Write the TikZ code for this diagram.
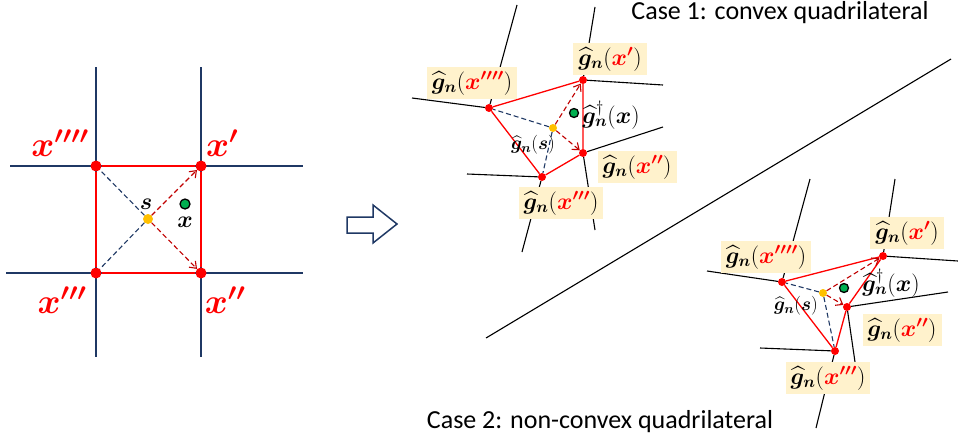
\RequirePackage{fix-cm}
\documentclass[tikz,border=0pt]{standalone}
\usepackage{amsmath,bm}
\usepackage[no-math]{fontspec}
\newfontfamily\casefont{Carlito}
\usepackage{xcolor}
\definecolor{gridBlue}{HTML}{1F3864}
\definecolor{vtxRed}{HTML}{FF0000}
\definecolor{arrowRed}{HTML}{C00000}
\definecolor{sampleGold}{HTML}{FFC000}
\definecolor{pointGreen}{HTML}{00B050}
\definecolor{labelBg}{HTML}{FFF2CC}
\usepackage{tikz}
\usetikzlibrary{arrows.meta}
\newcommand{\ghatn}{\widehat{\bm g}_{\bm n}}
\newcommand{\rx}[1]{\textcolor{vtxRed}{\bm{x#1}}}
\tikzset{
  gridline/.style={draw=gridBlue, line width=1.8pt},
  celledge/.style={draw=black, line width=1.1pt},
  quadline/.style={draw=vtxRed, line width=1.6pt},
  sdashblue/.style={draw=gridBlue, dash pattern=on 5pt off 3pt, line width=1.1pt},
  sdashred/.style={draw=arrowRed, dash pattern=on 5pt off 3pt, line width=1.1pt,
    -{Straight Barb[length=6pt,width=9pt]}},
  bigdot/.style={circle, fill=vtxRed, inner sep=0pt, minimum size=11pt},
  smalldot/.style={circle, fill=vtxRed, inner sep=0pt, minimum size=8pt},
  golddot/.style={circle, fill=sampleGold, inner sep=0pt, minimum size=#1},
  greendot/.style={circle, fill=pointGreen, draw=black, line width=1.3pt, inner sep=0pt, minimum size=#1},
  gbox/.style={fill=labelBg, inner xsep=5pt, inner ysep=4.5pt, font=\fontsize{23.5}{25}\selectfont},
  gtext/.style={inner sep=0pt, font=\fontsize{23.5}{25}\selectfont},
  stext/.style={inner sep=0pt, font=\fontsize{19}{21}\selectfont},
  bigx/.style={inner sep=0pt, text=vtxRed, font=\fontsize{35}{37}\selectfont},
  casetext/.style={inner sep=0pt, font=\casefont\fontsize{26}{28}\selectfont}
}
\begin{document}
\begin{tikzpicture}[x=1pt,y=-1pt]
  \useasboundingbox (0,0) rectangle (958,442);
  % left: regular grid
  \foreach \c in {96,201}{\draw[gridline] (\c,67) -- (\c,357);}
  \draw[gridline] (10,166) -- (303,166);
  \draw[gridline] (6,273) -- (303,273);
  \node[bigdot] (lq4) at (96,166) {};
  \node[bigdot] (lq1) at (201,166) {};
  \node[bigdot] (lq2) at (201,273) {};
  \node[bigdot] (lq3) at (96,273) {};
  \node[golddot=10pt] (ls) at (148,219) {};
  \node[greendot=10pt] (lx) at (185,204) {};
  \draw[quadline] (lq4) -- (lq1) -- (lq2) -- (lq3) -- (lq4);
  \draw[sdashblue] (ls) -- (lq4);
  \draw[sdashblue] (ls) -- (lq3);
  \draw[sdashred] (ls) -- (lq1);
  \draw[sdashred] (ls) -- (lq2);
  \node[bigx] (lq4lab) at (60,143) {$\rx{''''}$};
  \node[bigx] (lq1lab) at (222,143) {$\rx{'}$};
  \node[bigx] (lq3lab) at (62,300) {$\rx{'''}$};
  \node[bigx] (lq2lab) at (225,300) {$\rx{''}$};
  \node[gtext] (lslab) at (146,204) {$\bm s$};
  \node[gtext] (lxlab) at (185,222) {$\bm x$};
  % hollow arrow
  \draw[draw=gridBlue, line width=1.5pt, line join=miter]
    (347,217) -- (373,217) -- (373,205) -- (397,224) -- (373,243) -- (373,233) -- (347,233) -- cycle;
  % separating line
  \coordinate (dg1) at (486,338);
  \coordinate (dg2) at (951,59);
  \draw[celledge] (dg1) -- (dg2);
  % case 1: convex
  \node[smalldot] (a4) at (489,108) {};
  \node[smalldot] (a1) at (583,80) {};
  \node[smalldot] (a2) at (583,153) {};
  \node[smalldot] (a3) at (542,177) {};
  \node[golddot=8pt] (as) at (553,128) {};
  \node[greendot=9pt] (ax) at (574,113) {};
  \coordinate (a4w) at (412,98);  \coordinate (a4n) at (517,5);
  \coordinate (a1n) at (595,7);   \coordinate (a1e) at (663,85);
  \coordinate (a2e) at (663,127); \coordinate (a2s) at (595,230);
  \coordinate (a3w) at (467,174); \coordinate (a3s) at (522,252);
  \foreach \v/\e in {a4/a4w,a4/a4n,a1/a1n,a1/a1e,a2/a2e,a2/a2s,a3/a3w,a3/a3s}{\draw[celledge] (\v) -- (\e);}
  \node[gbox] (a4lab) at (472,83) {$\ghatn(\rx{''''})$};
  \node[gbox] (a1lab) at (610,59) {$\ghatn(\rx{'})$};
  \node[gbox] (a2lab) at (637,167) {$\ghatn(\rx{''})$};
  \node[gbox] (a3lab) at (561,203) {$\ghatn(\rx{'''})$};
  \draw[quadline, line width=1.3pt] (a4) -- (a1) -- (a2) -- (a3) -- (a4);
  \draw[sdashblue] (as) -- (a4);
  \draw[sdashblue] (as) -- (a3);
  \draw[sdashred] (as) -- (a1);
  \draw[sdashred] (as) -- (a2);
  \node[gtext] (axlab) at (611,115) {$\ghatn^{\dagger}(\bm x)$};
  \node[stext] (aslab) at (533,145) {$\ghatn(\bm s)$};
  \node[casetext] (case1) at (780,13) {Case 1: convex quadrilateral};
  % case 2: non-convex
  \node[smalldot] (b4) at (782,282) {};
  \node[smalldot] (b1) at (883,256) {};
  \node[smalldot] (b2) at (847,307) {};
  \node[smalldot] (b3) at (835,351) {};
  \node[golddot=8pt] (bs) at (823,293) {};
  \node[greendot=9pt] (bx) at (844,288) {};
  \coordinate (b4w) at (707,271); \coordinate (b4n) at (810,179);
  \coordinate (b1e) at (958,261); \coordinate (b1n) at (895,179);
  \coordinate (b2e) at (948,292); \coordinate (b2s) at (855,362);
  \coordinate (b3w) at (760,348); \coordinate (b3s) at (816,428);
  \foreach \v/\e in {b4/b4w,b4/b4n,b1/b1e,b1/b1n,b2/b2e,b2/b2s,b3/b3w,b3/b3s}{\draw[celledge] (\v) -- (\e);}
  \node[gbox] (b4lab) at (766,257) {$\ghatn(\rx{''''})$};
  \node[gbox] (b1lab) at (907,233) {$\ghatn(\rx{'})$};
  \node[gbox] (b2lab) at (902,330) {$\ghatn(\rx{''})$};
  \node[gbox] (b3lab) at (828,378) {$\ghatn(\rx{'''})$};
  \draw[quadline, line width=1.3pt] (b4) -- (b1) -- (b2) -- (b3) -- (b4);
  \draw[sdashblue] (bs) -- (b4);
  \draw[sdashblue] (bs) -- (b3);
  \draw[sdashred] (bs) -- (b1);
  \draw[sdashred] (bs) -- (b2);
  \node[gtext] (bxlab) at (891,283) {$\ghatn^{\dagger}(\bm x)$};
  \node[stext] (bslab) at (796,306) {$\ghatn(\bm s)$};
  \node[casetext] (case2) at (600,422) {Case 2: non-convex quadrilateral};
\end{tikzpicture}
\end{document}
